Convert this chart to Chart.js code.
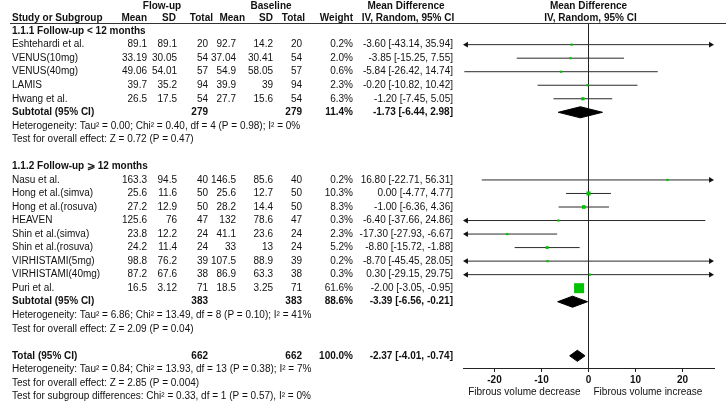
<!DOCTYPE html>
<html>
<head>
<meta charset="utf-8">
<script src="https://cdn.jsdelivr.net/npm/chart.js@4"></script>
<style>
  html, body { margin: 0; padding: 0; background: #fff; }
</style>
</head>
<body>
<canvas id="forest" width="726" height="405"></canvas>
<script>
// study rows
const studies = ['Eshtehardi et al.', 'VENUS(10mg)', 'VENUS(40mg)', 'LAMIS', 'Hwang et al.',
  'Nasu et al.', 'Hong et al.(simva)', 'Hong et al.(rosuva)', 'HEAVEN', 'Shin et al.(simva)',
  'Shin et al.(rosuva)', 'VIRHISTAMI(5mg)', 'VIRHISTAMI(40mg)', 'Puri et al.'];
const studyRows = [1, 2, 3, 4, 5, 11, 12, 13, 14, 15, 16, 17, 18, 19];
const followMean = [89.1, 33.19, 49.06, 39.7, 26.5, 163.3, 25.6, 27.2, 125.6, 23.8, 24.2, 98.8, 87.2, 16.5];
const followSD = [89.1, 30.05, 54.01, 35.2, 17.5, 94.5, 11.6, 12.9, 76, 12.2, 11.4, 76.2, 67.6, 3.12];
const followN = [20, 54, 57, 94, 54, 40, 50, 50, 47, 24, 24, 39, 38, 71];
const baseMean = [92.7, 37.04, 54.9, 39.9, 27.7, 146.5, 25.6, 28.2, 132, 41.1, 33, 107.5, 86.9, 18.5];
const baseSD = [14.2, 30.41, 58.05, 39, 15.6, 85.6, 12.7, 14.4, 78.6, 23.6, 13, 88.9, 63.3, 3.25];
const baseN = [20, 54, 57, 94, 54, 40, 50, 50, 47, 24, 24, 39, 38, 71];
const weights = [0.2, 2.0, 0.6, 2.3, 6.3, 0.2, 10.3, 8.3, 0.3, 2.3, 5.2, 0.2, 0.3, 61.6];
const md = [-3.60, -3.85, -5.84, -0.20, -1.20, 16.80, 0.00, -1.00, -6.40, -17.30, -8.80, -8.70, 0.30, -2.00];
const ciLow = [-43.14, -15.25, -26.42, -10.82, -7.45, -22.71, -4.77, -6.36, -37.66, -27.93, -15.72, -45.45, -29.15, -3.05];
const ciHigh = [35.94, 7.55, 14.74, 10.42, 5.05, 56.31, 4.77, 4.36, 24.86, -6.67, -1.88, 28.05, 29.75, -0.95];

// pooled rows
const pooledLabels = ['Subtotal (95% CI)', 'Subtotal (95% CI)', 'Total (95% CI)'];
const pooledRows = [6, 20, 24];
const pooledFollowN = [279, 383, 662];
const pooledBaseN = [279, 383, 662];
const pooledWeights = [11.4, 88.6, 100.0];
const pooledMD = [-1.73, -3.39, -2.37];
const pooledLow = [-6.44, -6.56, -4.01];
const pooledHigh = [2.98, -0.21, -0.74];

const groupLabels = ['1.1.1 Follow-up < 12 months', '1.1.2 Follow-up ⩾ 12 months'];
const groupRows = [0, 10];
const notes = [
  'Heterogeneity: Tau² = 0.00; Chi² = 0.40, df = 4 (P = 0.98); I² = 0%',
  'Test for overall effect: Z = 0.72 (P = 0.47)',
  'Heterogeneity: Tau² = 6.86; Chi² = 13.49, df = 8 (P = 0.10); I² = 41%',
  'Test for overall effect: Z = 2.09 (P = 0.04)',
  'Heterogeneity: Tau² = 0.84; Chi² = 13.93, df = 13 (P = 0.38); I² = 7%',
  'Test for overall effect: Z = 2.85 (P = 0.004)',
  'Test for subgroup differences: Chi² = 0.33, df = 1 (P = 0.57), I² = 0%'
];
const noteRows = [7, 8, 21, 22, 25, 26, 27];
const xTicks = [-20, -10, 0, 10, 20];

const X_MIN = -26.7, X_MAX = 26.7;
const ARROW = 0.7;
const FONT = '"Liberation Sans", Arial, sans-serif';
const INK = '#111';
const GREEN = '#00c400';

const boxes = {
  type: 'scatter',
  data: studies.map((s, i) => ({ x: md[i], y: studyRows[i] })),
  pointStyle: 'rect',
  pointRadius: weights.map(w => Math.max(2.2, 10 * Math.sqrt(w / 61.6)) / Math.SQRT2),
  pointBackgroundColor: GREEN,
  pointBorderWidth: 0,
  order: 0
};

const ciLines = studies.map((s, i) => {
  const outL = ciLow[i] < X_MIN, outR = ciHigh[i] > X_MAX;
  return {
    type: 'line',
    showLine: true,
    data: [
      { x: outL ? X_MIN + ARROW : ciLow[i], y: studyRows[i] },
      { x: outR ? X_MAX - ARROW : ciHigh[i], y: studyRows[i] }
    ],
    borderColor: '#2a2a2a',
    borderWidth: 1,
    pointStyle: 'triangle',
    pointRadius: [outL ? 3.3 : 0, outR ? 3.3 : 0],
    pointRotation: [-90, 90],
    pointBackgroundColor: '#111',
    pointBorderWidth: 0,
    fill: false,
    clip: false,
    order: 1
  };
});

const diamonds = pooledMD.map((m, i) => {
  const r = pooledRows[i];
  return {
    type: 'line',
    showLine: true,
    data: [
      { x: pooledLow[i], y: r }, { x: m, y: r - 0.41 },
      { x: pooledHigh[i], y: r }, { x: m, y: r + 0.41 },
      { x: pooledLow[i], y: r }
    ],
    borderColor: '#000',
    backgroundColor: '#000',
    borderWidth: 1,
    fill: 'shape',
    tension: 0,
    pointRadius: 0,
    order: 0
  };
});

function txt(ctx, s, x, y, align, bold) {
  ctx.font = (bold ? 'bold ' : '') + '10px ' + FONT;
  ctx.textAlign = align;
  ctx.fillText(s, x, y);
}

const tablePlugin = {
  id: 'forestTable',
  afterDraw(chart) {
    const { ctx, scales: { x, y }, chartArea } = chart;
    const ry = r => y.getPixelForValue(r);
    const x0 = x.getPixelForValue(0);
    ctx.save();
    ctx.fillStyle = INK;
    ctx.textBaseline = 'middle';

    // headers
    const h1 = ry(-1.85), h2 = ry(-0.95);
    txt(ctx, 'Flow-up', 162, h1, 'center', true);
    txt(ctx, 'Baseline', 271, h1, 'center', true);
    txt(ctx, 'Mean Difference', 406, h1, 'center', true);
    txt(ctx, 'Mean Difference', x0, h1, 'center', true);
    txt(ctx, 'Study or Subgroup', 12, h2, 'left', true);
    txt(ctx, 'Mean', 147, h2, 'right', true);
    txt(ctx, 'SD', 176, h2, 'right', true);
    txt(ctx, 'Total', 213, h2, 'right', true);
    txt(ctx, 'Mean', 245, h2, 'right', true);
    txt(ctx, 'SD', 273, h2, 'right', true);
    txt(ctx, 'Total', 305, h2, 'right', true);
    txt(ctx, 'Weight', 353, h2, 'right', true);
    txt(ctx, 'IV, Random, 95% CI', 408, h2, 'center', true);
    txt(ctx, 'IV, Random, 95% CI', x0 + 2, h2, 'center', true);

    ctx.strokeStyle = '#333';
    ctx.lineWidth = 1;
    ctx.beginPath();
    ctx.moveTo(10, Math.round(chartArea.top) + 0.5);
    ctx.lineTo(726, Math.round(chartArea.top) + 0.5);
    ctx.stroke();

    groupLabels.forEach((g, i) => txt(ctx, g, 12, ry(groupRows[i]), 'left', true));

    studies.forEach((s, i) => {
      const yy = ry(studyRows[i]);
      txt(ctx, s, 12, yy, 'left', false);
      txt(ctx, String(followMean[i]), 147, yy, 'right', false);
      txt(ctx, String(followSD[i]), 177, yy, 'right', false);
      txt(ctx, String(followN[i]), 208, yy, 'right', false);
      txt(ctx, String(baseMean[i]), 236, yy, 'right', false);
      txt(ctx, String(baseSD[i]), 273, yy, 'right', false);
      txt(ctx, String(baseN[i]), 302, yy, 'right', false);
      txt(ctx, weights[i].toFixed(1) + '%', 353, yy, 'right', false);
      txt(ctx, md[i].toFixed(2) + ' [' + ciLow[i].toFixed(2) + ', ' + ciHigh[i].toFixed(2) + ']', 453, yy, 'right', false);
    });

    pooledLabels.forEach((p, i) => {
      const yy = ry(pooledRows[i]);
      txt(ctx, p, 12, yy, 'left', true);
      txt(ctx, String(pooledFollowN[i]), 208, yy, 'right', true);
      txt(ctx, String(pooledBaseN[i]), 302, yy, 'right', true);
      txt(ctx, pooledWeights[i].toFixed(1) + '%', 353, yy, 'right', true);
      txt(ctx, pooledMD[i].toFixed(2) + ' [' + pooledLow[i].toFixed(2) + ', ' + pooledHigh[i].toFixed(2) + ']', 453, yy, 'right', true);
    });

    notes.forEach((n, i) => txt(ctx, n, 12, ry(noteRows[i]), 'left', false));

    const ly = chartArea.bottom + 24;
    txt(ctx, 'Fibrous volume decrease', x0 - 8, ly, 'right', false);
    txt(ctx, 'Fibrous volume increase', x0 + 5, ly, 'left', false);
    ctx.restore();
  }
};

new Chart(document.getElementById('forest'), {
  type: 'scatter',
  data: { datasets: [boxes, ...diamonds, ...ciLines] },
  options: {
    responsive: false,
    animation: false,
    events: [],
    layout: { padding: { left: 463, right: 12, top: 23, bottom: 0 } },
    plugins: { legend: { display: false }, tooltip: { enabled: false } },
    scales: {
      x: {
        type: 'linear',
        min: X_MIN,
        max: X_MAX,
        afterBuildTicks: s => { s.ticks = xTicks.map(v => ({ value: v })); },
        afterFit: s => { s.height = 37; },
        grid: {
          drawOnChartArea: true,
          color: c => (c.tick && c.tick.value === 0 ? '#222' : 'rgba(0,0,0,0)'),
          tickColor: '#222',
          tickLength: 4,
          lineWidth: 1
        },
        border: { display: true, color: '#222', width: 1 },
        ticks: {
          color: INK,
          font: { family: FONT, size: 10, weight: 'bold' },
          padding: 2,
          maxRotation: 0,
          autoSkip: false
        }
      },
      y: {
        type: 'linear',
        reverse: true,
        min: -0.6,
        max: 24.9,
        display: false
      }
    }
  },
  plugins: [tablePlugin]
});
</script>
</body>
</html>
